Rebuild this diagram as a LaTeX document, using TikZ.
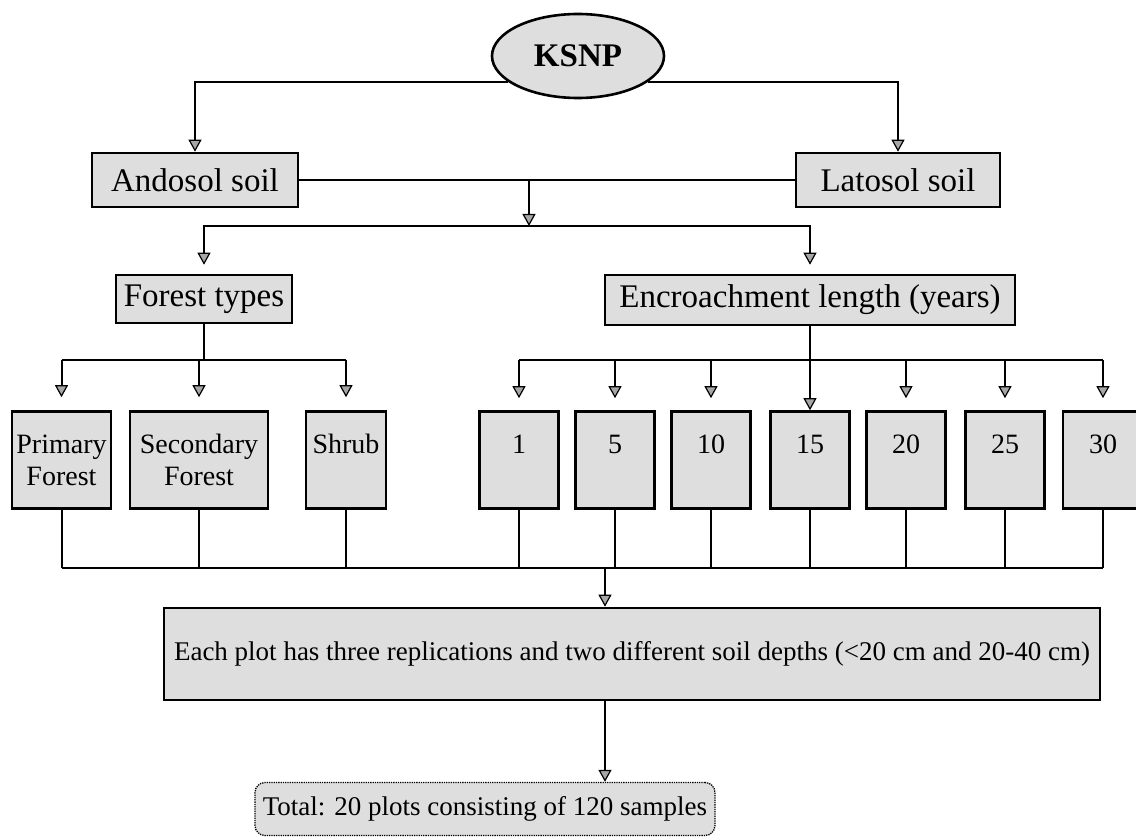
\documentclass[tikz,border=0pt]{standalone}
\usepackage{fontspec}
\setmainfont{Liberation Serif}
\usetikzlibrary{arrows.meta}
\usetikzlibrary{shapes.geometric}

\begin{document}
\begin{tikzpicture}[x=1pt,y=-1pt,line width=2pt,
  >={Triangle[width=13pt,length=12pt,line width=1.2pt,fill=black!35]},
  box/.style={draw,line width=2.6pt,fill=black!13,inner sep=0pt},
  big/.style={box,font=\fontsize{33}{38}\selectfont,minimum height=54pt},
  small/.style={box,font=\fontsize{28}{32}\selectfont,minimum height=97pt},
  two/.style={small,align=center},
  one/.style={small,text height=20pt,text depth=33pt}]
\useasboundingbox (0,0) rectangle (1136,837);
\node[ellipse,box,font=\fontsize{33}{36}\selectfont\bfseries,minimum width=172pt,minimum height=84pt] (K) at (578,56) {KSNP};
\node[big,minimum width=206pt] (A) at (195,180) {Andosol soil};
\node[big,minimum width=204pt] (L) at (898,180) {Latosol soil};
\node[big,minimum width=176pt,minimum height=48pt] (FT) at (204,299) {Forest types};
\node[big,minimum width=410pt,minimum height=50pt] (EL) at (810,300) {Encroachment length (years)};
\node[two,minimum width=99pt] (PF) at (61.5,460) {Primary\\Forest};
\node[two,minimum width=138pt] (SF) at (199,460) {Secondary\\Forest};
\node[one,minimum width=80pt] (SH) at (346,460) {Shrub};
\node[one,minimum width=79pt] (Y1) at (519,460) {1};
\node[one,minimum width=79pt] (Y5) at (615,460) {5};
\node[one,minimum width=79pt] (Y10) at (711,460) {10};
\node[one,minimum width=79pt] (Y15) at (810,460) {15};
\node[one,minimum width=79pt] (Y20) at (906,460) {20};
\node[one,minimum width=79pt] (Y25) at (1005,460) {25};
\node[one,minimum width=80pt] (Y30) at (1103,460) {30};
\node[box,font=\fontsize{27}{31}\selectfont,minimum width=936pt,minimum height=92pt] (P) at (632,654) {Each plot has three replications and two different soil depths (<20 cm and 20-40 cm)};
\node[box,line width=1.3pt,densely dotted,rounded corners=10pt,font=\fontsize{27}{31}\selectfont,minimum width=460pt,minimum height=53pt] (T) at (485,809) {Total: 20 plots consisting of 120 samples};
\coordinate (J1) at (529,180);
\coordinate (J2) at (529,226);
\coordinate (H1) at (0,360);
\coordinate (H2) at (0,568);
\coordinate (J3) at (605,568);
% KSNP to soils
\draw[->] (K.200) -| (A.north);
\draw[->] (K.-20) -| (L.north);
\draw (A.east) -- (L.west);
\draw[->] (J1) -- (J2);
\draw[->,shorten >=9pt] (J2) -| (FT.north);
\draw[->,shorten >=9pt] (J2) -| (EL.north);
% forest types
\draw (FT.south) -- (FT.south |- H1);
\draw (PF.north |- H1) -- (SH.north |- H1);
\draw[->,shorten >=13pt] (PF.north |- H1) -- (PF.north);
\draw[->,shorten >=13pt] (SF.north |- H1) -- (SF.north);
\draw[->,shorten >=13pt] (SH.north |- H1) -- (SH.north);
% encroachment length
\draw (Y1.north |- H1) -- (Y30.north |- H1);
\draw[->] (EL.south) -- (Y15.north);
\draw[->,shorten >=12pt] (Y1.north |- H1) -- (Y1.north);
\draw[->,shorten >=12pt] (Y5.north |- H1) -- (Y5.north);
\draw[->,shorten >=12pt] (Y10.north |- H1) -- (Y10.north);
\draw[->,shorten >=12pt] (Y20.north |- H1) -- (Y20.north);
\draw[->,shorten >=12pt] (Y25.north |- H1) -- (Y25.north);
\draw[->,shorten >=12pt] (Y30.north |- H1) -- (Y30.north);
% joined below
\draw (PF.south) -- (PF.south |- H2);
\draw (SF.south) -- (SF.south |- H2);
\draw (SH.south) -- (SH.south |- H2);
\draw (Y1.south) -- (Y1.south |- H2);
\draw (Y5.south) -- (Y5.south |- H2);
\draw (Y10.south) -- (Y10.south |- H2);
\draw (Y15.south) -- (Y15.south |- H2);
\draw (Y20.south) -- (Y20.south |- H2);
\draw (Y25.south) -- (Y25.south |- H2);
\draw (Y30.south) -- (Y30.south |- H2);
\draw (PF.south |- H2) -- (Y30.south |- H2);
\draw[->] (J3) -- (J3 |- P.north);
\draw[->] (P.south -| J3) -- (J3 |- T.north);
\end{tikzpicture}
\end{document}
